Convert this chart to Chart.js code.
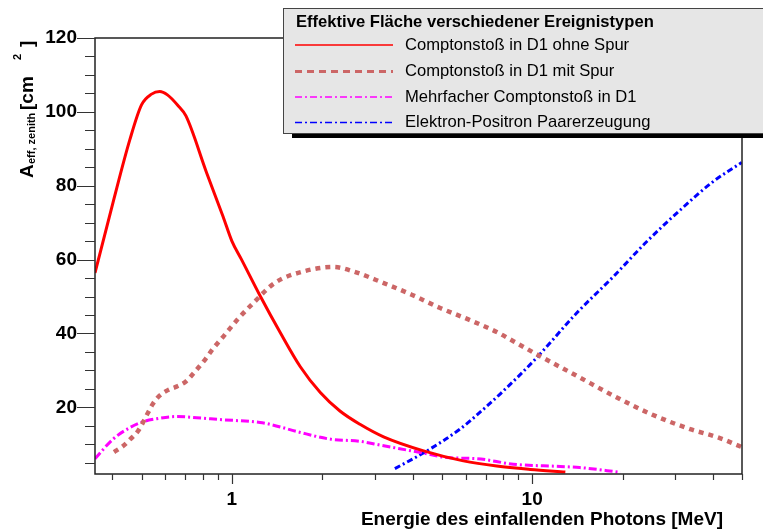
<!DOCTYPE html>
<html>
<head>
<meta charset="utf-8">
<script src="https://cdn.jsdelivr.net/npm/chart.js@4.4.0/dist/chart.umd.min.js"></script>
<style>
  html, body { margin: 0; padding: 0; background: #fff; }
</style>
</head>
<body>
<canvas id="effChart" width="763" height="531"></canvas>
<script>
// data (energy in MeV, area in cm^2)
var ohneSpurE = [0.35, 0.402, 0.457, 0.5, 0.54, 0.575, 0.61, 0.66, 0.703, 0.823, 0.935, 1.0, 1.077, 1.24, 1.45, 1.69, 1.97, 2.29, 2.67, 3.2, 4.35, 5.9, 7.62, 9.85, 12.9];
var ohneSpurA = [56.4, 75.5, 92.4, 101.9, 104.8, 105.5, 104.6, 101.8, 98.9, 83.6, 71.6, 65.0, 60.0, 50.3, 40.2, 31.0, 24.0, 19.0, 15.4, 12.0, 8.2, 5.5, 4.1, 3.2, 2.5];

var mitSpurE = [0.405, 0.434, 0.459, 0.487, 0.526, 0.544, 0.573, 0.613, 0.654, 0.703, 0.743, 0.819, 0.862, 0.948, 1.05, 1.18, 1.39, 1.73, 2.18, 2.54, 3.19, 3.97, 4.94, 6.13, 7.62, 8.66, 10.6, 14.1, 18.7, 25.0, 33.6, 41.8, 49.7];
var mitSpurA = [7.9, 9.5, 11.4, 13.6, 18.6, 20.8, 23.1, 24.7, 25.6, 27.0, 29.1, 33.2, 35.7, 39.7, 44.0, 48.3, 53.7, 56.8, 58.0, 56.8, 53.7, 50.5, 46.9, 43.8, 40.4, 37.9, 33.9, 28.5, 23.1, 18.1, 14.1, 11.8, 9.3];

var mehrfachE = [0.35, 0.402, 0.457, 0.506, 0.561, 0.654, 0.763, 0.912, 1.24, 1.34, 1.69, 2.12, 2.67, 3.11, 4.35, 5.2, 6.55, 8.66, 12.4, 14.4, 19.7];
var mehrfachA = [6.1, 11.4, 14.5, 16.1, 16.9, 17.5, 17.2, 16.7, 15.9, 15.4, 13.2, 11.4, 10.8, 9.8, 7.6, 6.4, 6.1, 4.6, 4.0, 3.7, 2.4];

var paarE = [3.49, 4.46, 5.75, 6.8, 7.82, 10.1, 14.1, 18.7, 24.1, 31.2, 40.2, 49.9];
var paarA = [3.4, 8.2, 14.1, 19.1, 23.6, 32.5, 45.6, 55.5, 64.9, 73.5, 81.2, 86.3];

var seriesNames = [
  "Comptonsto\u00df in D1 ohne Spur",
  "Comptonsto\u00df in D1 mit Spur",
  "Mehrfacher Comptonsto\u00df in D1",
  "Elektron-Positron Paarerzeugung"
];
var legendTitle = "Effektive Fl\u00e4che verschiedener Ereignistypen";

var xTickVals = [0.4, 0.5, 0.6, 0.7, 0.8, 0.9, 1, 2, 3, 4, 5, 6, 7, 8, 9, 10, 20, 30, 40, 50];
var xLabelVals = [1, 10];
var yTickVals = [5, 10, 15, 20, 25, 30, 35, 40, 45, 50, 55, 60, 65, 70, 75, 80, 85, 90, 95, 100, 105, 110, 115, 120];
var yLabelVals = [20, 40, 60, 80, 100, 120];

function pairs(xs, ys) {
  var out = [];
  for (var i = 0; i < xs.length; i++) out.push({ x: xs[i], y: ys[i] });
  return out;
}

var FONT = "'Liberation Sans', Arial, Helvetica, sans-serif";

// ROOT look: frame, outward ticks, axis titles, legend box with shadow
var rootStyle = {
  id: "rootStyle",
  beforeDraw: function(chart) {
    var ctx = chart.ctx;
    ctx.save();
    ctx.fillStyle = "#fff";
    ctx.fillRect(0, 0, chart.width, chart.height);
    ctx.restore();
  },
  afterDraw: function(chart) {
    var ctx = chart.ctx;
    var a = chart.chartArea;
    var xs = chart.scales.x;
    var ys = chart.scales.y;
    var i, p, len;
    ctx.save();

    // frame
    ctx.strokeStyle = "#222";
    ctx.lineWidth = 1.5;
    ctx.strokeRect(a.left, a.top, a.right - a.left, a.bottom - a.top);

    // ticks
    ctx.lineWidth = 1.2;
    ctx.strokeStyle = "#333";
    ctx.beginPath();
    for (i = 0; i < yTickVals.length; i++) {
      p = Math.round(ys.getPixelForValue(yTickVals[i])) + 0.5;
      len = yLabelVals.indexOf(yTickVals[i]) >= 0 ? 18 : 10;
      ctx.moveTo(a.left - len, p);
      ctx.lineTo(a.left, p);
    }
    for (i = 0; i < xTickVals.length; i++) {
      p = Math.round(xs.getPixelForValue(xTickVals[i])) + 0.5;
      len = xLabelVals.indexOf(xTickVals[i]) >= 0 ? 10 : 6;
      ctx.moveTo(p, a.bottom);
      ctx.lineTo(p, a.bottom + len);
    }
    ctx.stroke();

    // x axis title
    ctx.fillStyle = "#000";
    ctx.font = "bold 19px " + FONT;
    ctx.textAlign = "right";
    ctx.textBaseline = "alphabetic";
    ctx.fillText("Energie des einfallenden Photons [MeV]", 723, 525);

    // y axis title, rotated, with sub- and superscript
    ctx.save();
    ctx.translate(33, 178);
    ctx.rotate(-Math.PI / 2);
    ctx.textAlign = "left";
    ctx.font = "bold 19px " + FONT;
    ctx.fillText("A", 0, 0);
    ctx.font = "bold 11px " + FONT;
    ctx.fillText("eff, zenith", 14, 1.5);
    ctx.font = "bold 19px " + FONT;
    ctx.fillText("[cm", 68, 0);
    ctx.font = "bold 11px " + FONT;
    ctx.fillText("2", 118, -12);
    ctx.font = "bold 19px " + FONT;
    ctx.fillText("]", 131, 0);
    ctx.restore();

    // legend box
    var bx = 283, by = 8, bw = 480, bh = 125;
    ctx.fillStyle = "#000";
    ctx.fillRect(bx + 9, by + bh, bw, 5);
    ctx.fillStyle = "#e6e6e6";
    ctx.fillRect(bx, by, bw, bh);
    ctx.strokeStyle = "#444";
    ctx.lineWidth = 1;
    ctx.strokeRect(bx + 0.5, by + 0.5, bw, bh);

    ctx.fillStyle = "#000";
    ctx.textAlign = "left";
    ctx.textBaseline = "middle";
    ctx.font = "bold 16.6px " + FONT;
    ctx.fillText(legendTitle, 296, 22);

    ctx.font = "16.6px " + FONT;
    var rowY = [45, 71.5, 97, 122.5];
    chart.data.datasets.forEach(function(ds, k) {
      ctx.save();
      ctx.strokeStyle = ds.borderColor;
      ctx.lineWidth = ds.legendWidth;
      ctx.setLineDash(ds.legendDash);
      ctx.beginPath();
      ctx.moveTo(295, rowY[k]);
      ctx.lineTo(393, rowY[k]);
      ctx.stroke();
      ctx.restore();
      ctx.fillText(ds.label, 405, rowY[k]);
    });

    ctx.restore();
  }
};

new Chart(document.getElementById("effChart").getContext("2d"), {
  type: "line",
  data: {
    datasets: [
      {
        label: seriesNames[0],
        data: pairs(ohneSpurE, ohneSpurA),
        borderColor: "#ff0000",
        borderWidth: 3,
        borderDash: [],
        legendWidth: 1.5,
        legendDash: []
      },
      {
        label: seriesNames[1],
        data: pairs(mitSpurE, mitSpurA),
        borderColor: "#cc6666",
        borderWidth: 4.5,
        borderDash: [5, 5],
        legendWidth: 3,
        legendDash: [7, 5]
      },
      {
        label: seriesNames[2],
        data: pairs(mehrfachE, mehrfachA),
        borderColor: "#ff00ff",
        borderWidth: 3,
        borderDash: [8, 3, 2, 3],
        legendWidth: 1.5,
        legendDash: [7, 3, 2, 3]
      },
      {
        label: seriesNames[3],
        data: pairs(paarE, paarA),
        borderColor: "#0000ff",
        borderWidth: 3,
        borderDash: [6, 3, 2, 3],
        legendWidth: 1.5,
        legendDash: [7, 3, 2, 3]
      }
    ]
  },
  options: {
    responsive: false,
    animation: false,
    layout: { padding: { top: 38, right: 21, left: 0, bottom: 0 } },
    elements: {
      point: { radius: 0 },
      line: { cubicInterpolationMode: "monotone", borderCapStyle: "butt", fill: false }
    },
    plugins: {
      legend: { display: false },
      tooltip: { enabled: false }
    },
    scales: {
      x: {
        type: "logarithmic",
        min: 0.35,
        max: 50,
        grid: { display: false, drawTicks: false },
        border: { display: false },
        afterFit: function(s) { s.height = 57; },
        afterBuildTicks: function(s) {
          s.ticks = xTickVals.map(function(v) { return { value: v }; });
        },
        ticks: {
          autoSkip: false,
          maxRotation: 0,
          padding: 14,
          color: "#000",
          font: { family: FONT, size: 19, weight: "bold" },
          callback: function(v) { return xLabelVals.indexOf(v) >= 0 ? String(v) : ""; }
        }
      },
      y: {
        type: "linear",
        min: 1.95,
        max: 120,
        grid: { display: false, drawTicks: false },
        border: { display: false },
        afterFit: function(s) { s.width = 95; },
        afterBuildTicks: function(s) {
          s.ticks = yTickVals.map(function(v) { return { value: v }; });
        },
        ticks: {
          autoSkip: false,
          padding: 18,
          color: "#000",
          font: { family: FONT, size: 19, weight: "bold" },
          callback: function(v) { return yLabelVals.indexOf(v) >= 0 ? String(v) : ""; }
        }
      }
    }
  },
  plugins: [rootStyle]
});
</script>
</body>
</html>
